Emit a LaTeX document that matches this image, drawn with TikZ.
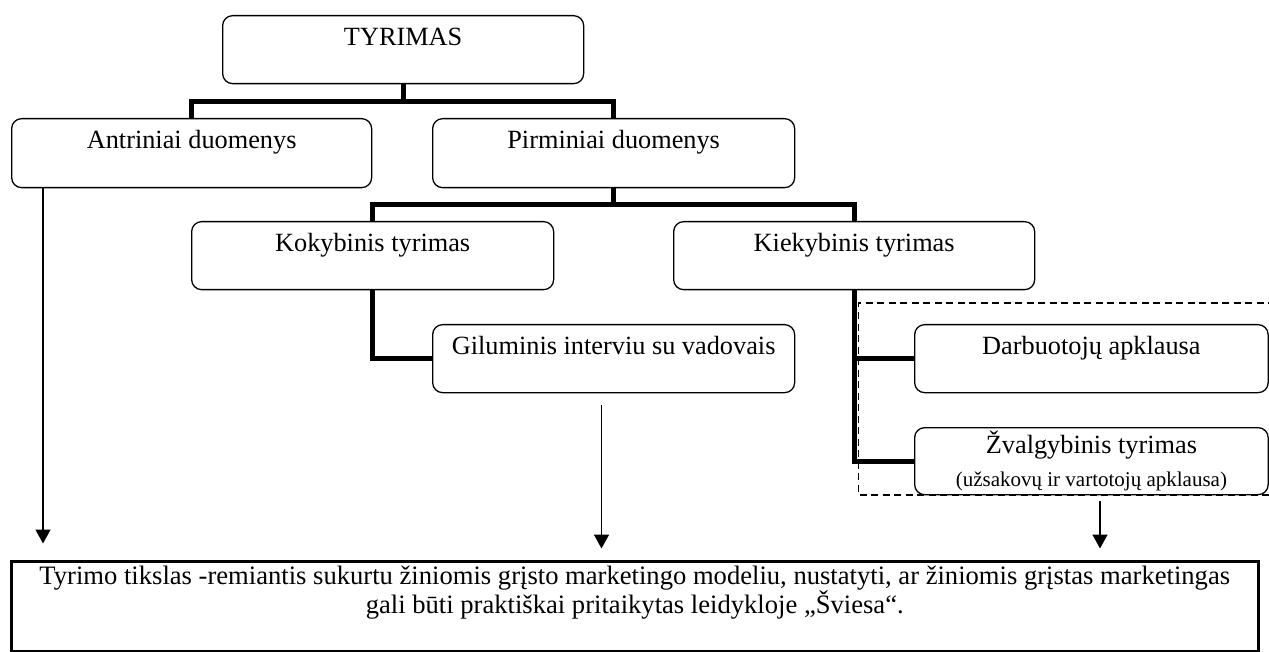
\documentclass[tikz,border=0pt]{standalone}
\usepackage{fontspec}
\setmainfont{Liberation Serif}
\usetikzlibrary{calc,arrows.meta}
\begin{document}
\begin{tikzpicture}[x=1pt,y=-1pt,
  every node/.style={font=\fontsize{26.3}{28.5}\selectfont, inner sep=0pt},
  box/.style={draw, fill=white, rounded corners=10pt, line width=1.3pt, anchor=north west, text height=29.5pt},
  tree/.style={line width=5pt},
  arr/.style={line width=1.6pt, -{Triangle[length=14pt,width=15pt]}},
  dashbox/.style={line width=1.2pt, dash pattern=on 7pt off 4.5pt}]
\useasboundingbox (0,0) rectangle (1269,652);

% dashed frame
\coordinate (dtl) at (858.5,303);
\coordinate (dbl) at (858.5,495);
\coordinate (dtr) at (1275,303);
\coordinate (dbr) at (1275,495);
\draw[dashbox] (dtr) -- (dtl) -- (dbl) -- (dbr);

% boxes
\node[box, minimum width=361pt, text height=30pt, text depth=38pt] (tyr) at (222,15) {TYRIMAS};
\node[box, minimum width=360pt, text depth=39.5pt] (ant) at (11,118) {Antriniai duomenys};
\node[box, minimum width=362pt, text depth=39.5pt] (pir) at (432,118) {Pirminiai duomenys};
\node[box, minimum width=362pt, text depth=38.5pt] (kok) at (191,221) {Kokybinis tyrimas};
\node[box, minimum width=361pt, text depth=38.5pt] (kie) at (673,221) {Kiekybinis tyrimas};
\node[box, minimum width=362pt, text depth=38.5pt] (gil) at (432,324) {Giluminis interviu su vadovais};
\node[box, minimum width=353.5pt, text depth=38.5pt] (dar) at (914,324) {Darbuotojų apklausa};
\node[box, minimum width=353.5pt, minimum height=67pt] (zva) at (914,427) {};
\node[anchor=base] (zvt1) at (zva.center |- 0,453) {Žvalgybinis tyrimas};
\node[anchor=base, font=\fontsize{21}{24}\selectfont] (zvt2) at (zva.center |- 0,486) {(užsakovų ir vartotojų apklausa)};

% goal box
\node[draw, line width=2.5pt, anchor=north west, minimum width=1247pt, minimum height=90pt] (goal) at (10,560) {};
\node[align=center, font=\fontsize{26.6}{28.5}\selectfont] (goalt) at ($(goal.north)+(0,32.5)$) {Tyrimo tikslas -remiantis sukurtu žiniomis grįsto marketingo modeliu, nustatyti, ar žiniomis grįstas marketingas\\ gali būti praktiškai pritaikytas leidykloje „Šviesa“.};

% tree connectors
\draw[tree] (tyr.south) -- ++(0,17) coordinate (j1);
\draw[tree] (ant.north) |- (j1) -| (pir.north);
\draw[tree] (pir.south) -- ++(0,16.5) coordinate (j2);
\draw[tree] (kok.north) |- (j2) -| (kie.north);
\draw[tree] (kok.south) |- (gil.west);
\draw[tree] (kie.south) |- (dar.west);
\draw[tree] (kie.south) |- (zva.west);

% arrows
\coordinate (a1) at (43,0);
\coordinate (a2) at (601.5,0);
\coordinate (a3) at (1100,0);
\draw[arr] (ant.south -| a1) -- ($(goal.north -| a1)+(0,-16.5)$);
\draw[arr] ($(gil.south -| a2)+(0,11.5)$) -- ($(goal.north -| a2)+(0,-11.5)$);
\draw[arr] ($(zva.south -| a3)+(0,5.5)$) -- ($(goal.north -| a3)+(0,-11.5)$);
\end{tikzpicture}
\end{document}
